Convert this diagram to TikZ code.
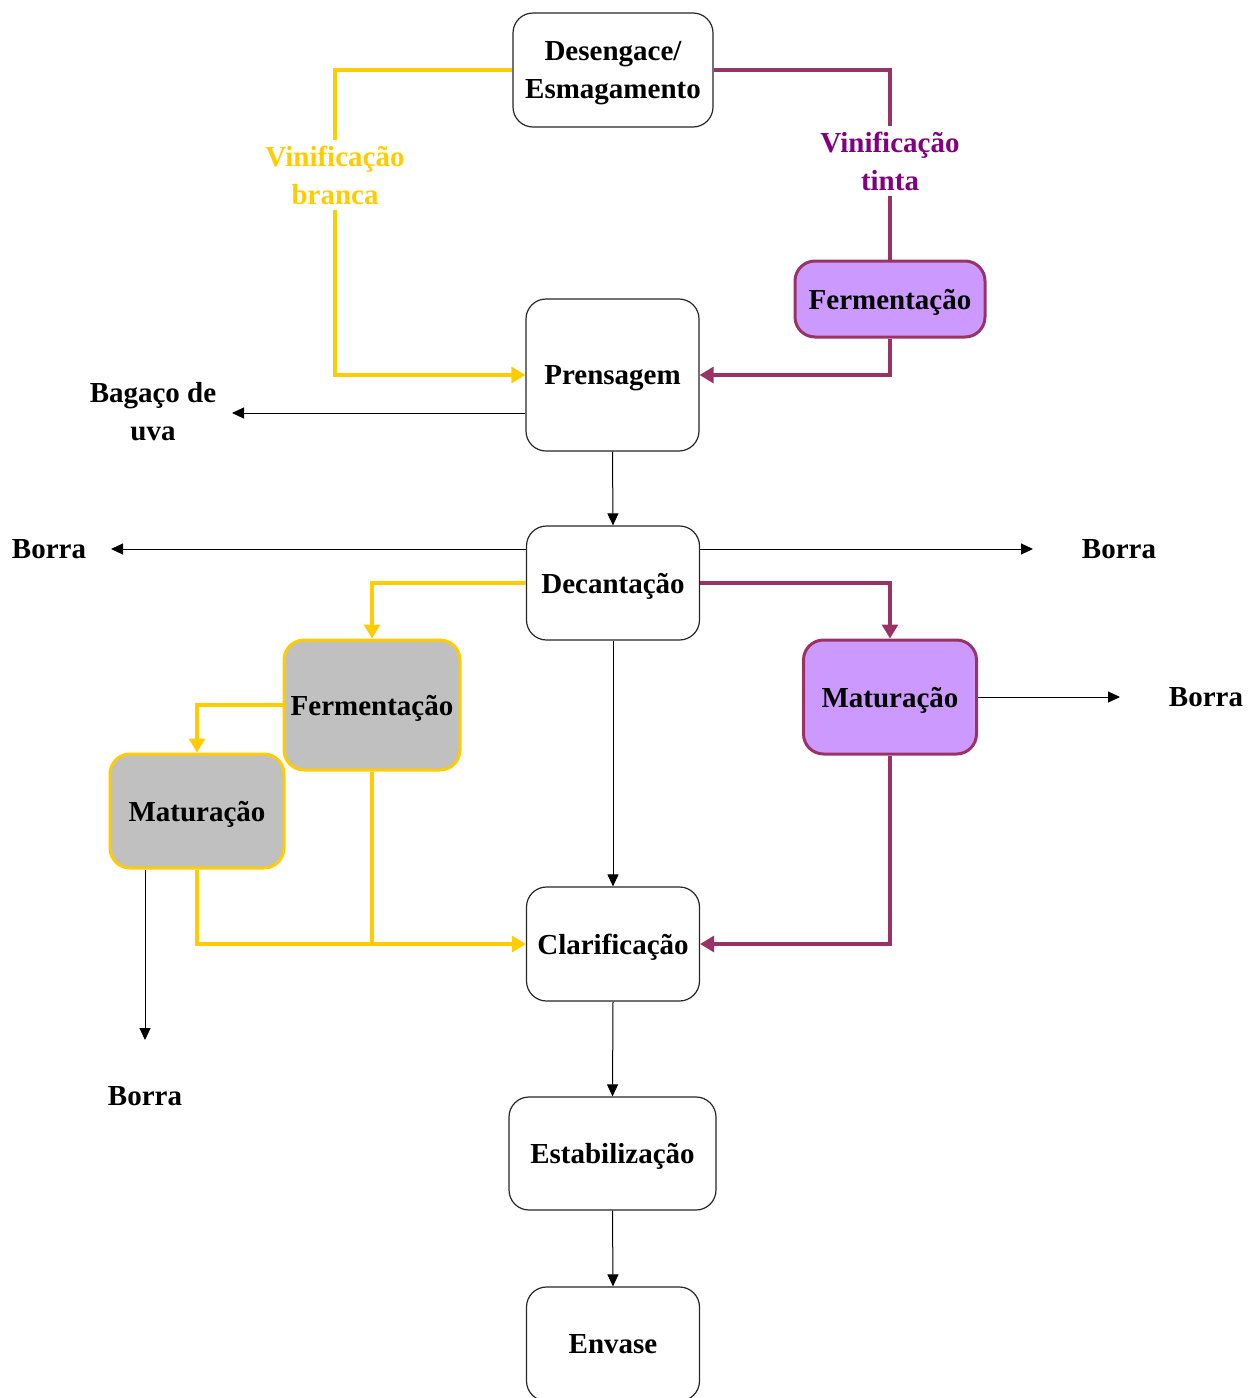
\documentclass[tikz,border=0pt]{standalone}
\usepackage{fontspec}
\setmainfont{Liberation Serif}
\usetikzlibrary{arrows.meta}
\definecolor{yl}{HTML}{FFCC00}
\definecolor{pl}{HTML}{993366}
\definecolor{pf}{HTML}{CC99FF}
\definecolor{ptx}{HTML}{800080}
\definecolor{gf}{HTML}{C0C0C0}
\begin{document}
\begin{tikzpicture}[x=0.5pt,y=-0.5pt,
  txt/.style={font=\fontsize{14.5}{19}\selectfont\bfseries, align=center, inner sep=1pt},
  box/.style={txt, draw=black!85, line width=0.6pt, rounded corners=10pt, inner sep=0pt, fill=white, text depth=0pt},
  pbox/.style={box, draw=pl, line width=1.5pt, fill=pf},
  gbox/.style={box, draw=yl, line width=1.5pt, fill=gf},
  bline/.style={line width=0.5pt, draw=black},
  ba/.style={bline, -{Triangle[length=6pt,width=5.5pt]}},
  yline/.style={line width=1.6pt, draw=yl},
  ya/.style={yline, -{Triangle[length=7pt,width=8pt]}, yl},
  pline/.style={line width=1.6pt, draw=pl},
  pa/.style={pline, -{Triangle[length=7pt,width=8pt]}, pl}]
\useasboundingbox (0,0) rectangle (1248,1398);
% boxes
\node[box, minimum width=100pt, minimum height=57pt] (des) at (613,70) {Desengace/\\Esmagamento};
\node[pbox, minimum width=95pt, minimum height=38pt] (fermP) at (890,299) {Fermentação};
\node[box, minimum width=86.5pt, minimum height=76pt] (prens) at (612.5,375) {Prensagem};
\node[box, minimum width=86.5pt, minimum height=57pt] (dec) at (613,583) {Decantação};
\node[gbox, minimum width=88pt, minimum height=65pt] (fermG) at (372,705) {Fermentação};
\node[gbox, minimum width=87pt, minimum height=57pt] (matG) at (197,811) {Maturação};
\node[pbox, minimum width=86.5pt, minimum height=57pt] (matP) at (890,697) {Maturação};
\node[box, minimum width=86.5pt, minimum height=57pt] (clar) at (613,944) {Clarificação};
\node[box, minimum width=103.5pt, minimum height=56.5pt] (estab) at (612.5,1153.5) {Estabilização};
\node[box, minimum width=86.5pt, minimum height=57pt] (env) at (613,1344) {Envase};
% free ends
\coordinate (yk) at (335,200);
\coordinate (bagend) at (232,413);
\coordinate (bL) at (111,549);
\coordinate (bR) at (1033,549);
\coordinate (bR2) at (1120,697);
\coordinate (bB) at (145,1040);
% connectors
\draw[ya] (des.west) -| (yk) |- (prens.west);
\draw[pline] (des.east) -| (fermP.north);
\draw[pa] (fermP.south) |- (prens.east);
\draw[ba] (prens.west |- bagend) -- (bagend);
\draw[ba] (prens.south) -- (dec.north);
\draw[ba] (dec.west |- bL) -- (bL);
\draw[ba] (dec.east |- bR) -- (bR);
\draw[ya] (dec.west) -| (fermG.north);
\draw[pa] (dec.east) -| (matP.north);
\draw[ya] (fermG.west) -| (matG.north);
\draw[ba] (dec.south) -- (clar.north);
\draw[ba] (matP.east) -- (bR2);
\draw[ya] (matG.south) |- (clar.west);
\draw[yline] (fermG.south) -- (fermG.south |- clar.west);
\draw[ba] (matG.south -| bB) -- (bB);
\draw[pa] (matP.south) |- (clar.east);
\draw[ba] (clar.south) -- (estab.north);
\draw[ba] (estab.south) -- (env.north);
% labels
\node[txt, text=yl, fill=white, inner sep=3pt] (vb) at (335,175) {Vinificação\\branca};
\node[txt, text=ptx, fill=white, inner sep=3pt] (vt) at (890,161) {Vinificação\\tinta};
\node[txt] (bag) at (153,412) {Bagaço de\\uva};
\node[txt] (b1) at (49,549) {Borra};
\node[txt] (b2) at (1119,549) {Borra};
\node[txt] (b3) at (1206,697) {Borra};
\node[txt] (b4) at (145,1096) {Borra};
\end{tikzpicture}
\end{document}
